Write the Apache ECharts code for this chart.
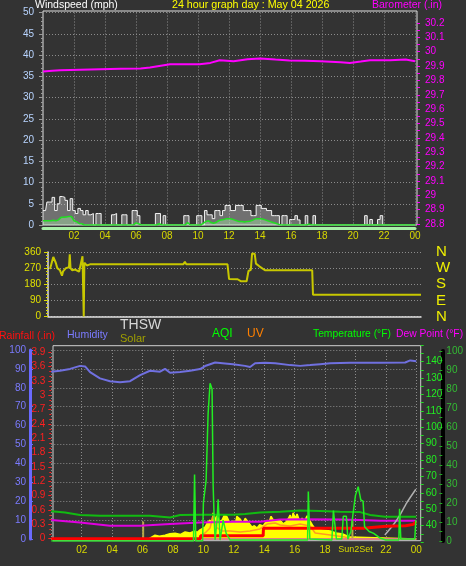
<!DOCTYPE html>
<html><head><meta charset="utf-8">
<script src="https://cdn.jsdelivr.net/npm/echarts@6/dist/echarts.min.js"></script>
<style>html,body{margin:0;padding:0;background:#333333;}#c{width:466px;height:566px;}</style>
</head><body><div id="c"></div>
<script>
// ---------- DATA ----------
// wind, one value per 10 minutes from 00:00 to 24:00 (mph)
const windGust = [3.4,3.4,5.4,5.4,6.5,3.4,5,6.7,6.5,5.8, 3.4,6.2,3.4,2.7,3.9,3.4,2.4,3.4,2.4,2.7,
  0,2.7,2.7,0,0,0,0,2.4,2.7,0, 0,2.4,2.4,0,0,3.4,3.4,2.2,0,0, 0,0,0,0,2.7,2.7,0,2.2,0,0,
  0,0,0,0,0,2.2,2.2,0,0,0, 2.2,2.2,0,3.4,2.4,2.4,1.5,3.4,3.4,2.2, 3.4,4.6,4.6,3.4,3.4,4.6,4.6,4.6,3.4,3.4,
  3.4,2.2,2.2,4.6,4.6,3.9,3.9,3.4,3.4,2.2, 2.2,2.2,0,2.2,2.2,0,1.3,1.3,2.2,1.2, 0,0,2.2,0,0,2.2,0,0,0,0,
  0,0,0,0,0,0,0,0,0,0, 0,0,0,0,0,2.2,0,1.3,0,0, 1.3,2.2,0,0,0,0,0,0,0,0, 0,0,0,0,0];
const windAvg = [1.0,1.0,1.0,1.0,1.1,1.0,1.2,1.8,1.8,1.9, 2.0,2.0,1.0,0.8,0.35,0.3,0,0,0,0,
  0,0,0,0,0,0,0,0,0,0, 0,0,0,0,0,0,0.5,0.3,0,0, 0,0,0,0,0,0.3,0,0,0,0,
  0,0,0,0,0,0,0.6,0,0,0, 0,0,0.4,0.8,1.0,0.6,0.4,0.6,1.0,1.2, 1.3,1.5,1.5,1.4,1.2,1.0,0.8,0.8,0.7,0.8,
  0.9,1.1,1.4,1.5,1.5,1.4,1.2,1.0,0.8,0.6, 0.4,0.2,0,0,0,0,0,0,0,0, 0,0,0,0.2,0,0,0,0,0,0,
  0,0,0,0,0,0,0,0,0,0, 0,0,0,0,0,0,0,0,0,0, 0,0,0,0,0,0,0,0,0,0, 0,0,0,0,0];
// barometer [hour, inHg]
const barometer = [[0,29.862],[0.6,29.868],[1.1,29.871],[2.4,29.875],[3.7,29.878],[5.0,29.881],[6.3,29.883],[6.9,29.89],
  [7.6,29.903],[8.2,29.913],[9.2,29.912],[10.1,29.913],[10.8,29.922],[11.4,29.941],[12.3,29.934],[13.2,29.947],[14.0,29.953],
  [15.0,29.945],[15.9,29.939],[16.9,29.937],[17.9,29.934],[19.2,29.927],[19.8,29.922],[20.5,29.932],[21.1,29.941],
  [22.4,29.941],[23.4,29.945],[24,29.934]];
// wind direction [hour, degrees]
const windDir = [[0.13,265],[0.34,332],[0.5,300],[0.6,270],[0.77,258],[0.9,228],[0.97,252],[1.15,270],[1.35,275],
  [1.4,347],[1.45,270],[1.55,258],[1.75,262],[2.0,250],[2.1,258],[2.22,336],[2.27,336],[2.3,0],[2.34,300],[2.5,285],
  [2.7,291],[8.7,291],[8.81,305],[8.9,291],[11.55,291],[11.65,209],[12.2,208],[12.4,197],[12.78,197],[12.9,254],
  [13.05,260],[13.13,351],[13.3,350],[13.38,295],[13.6,280],[13.96,258],[17.0,258],[17.05,122],[24,122]];
const dirLetters = {0:'N',90:'E',180:'S',270:'W',360:'N'};
// bottom panel
const humidity = [[0,88.5],[0.57,89],[1.23,90],[1.89,91.6],[2.22,91.3],[2.55,88.3],[3.2,85],[3.86,83.5],[4.52,83],
  [5.18,83.5],[5.84,86.7],[6.49,89],[7.15,88.5],[7.48,90],[7.81,88],[8.47,88.3],[9.13,89],[9.78,89.9],[10.11,91.5],
  [10.77,93.4],[11.43,92.9],[11.95,92.5],[12.74,91.6],[13.07,91],[13.4,93],[14.06,93.2],[14.72,93],[15.71,92],
  [16.36,91.6],[17.02,92],[17.68,92.5],[18.34,93],[19.65,93.2],[21.63,93.2],[23.27,93.4],[23.6,94.5],[24,94]];
const temperature = [[0,48.8],[0.9,48],[1.89,46.5],[3.2,46],[6.49,46],[7.81,45],[8.47,46.5],[9.78,46.7],[11.95,46.7],
  [12.74,47.2],[13.72,48],[15.05,48.5],[16.36,49.3],[17.68,48.9],[18.99,48.5],[20.31,48.3],[20.97,46.5],[21.95,45.5],[24,45.5]];
const dewPoint = [[0,43.5],[1.89,42],[3.86,40],[5.84,40],[7.81,41],[9.78,42],[11.95,42.4],[13.72,42.4],[15.05,43.8],
  [16.36,44],[18.99,43.8],[20.31,43.5],[21.63,43],[24,43]];
const rainfall = [[0,0],[9.8,0],[9.82,0.06],[13.93,0.06],[13.95,0.22],[20.5,0.22],[20.6,0.25],[22,0.26],[23.3,0.27],[23.8,0.3],[24,0.36]];
const solar = [[0,0],[6.4,0],[6.49,0.5],[6.82,2],[7.1,1.5],[7.48,2],[7.8,2.8],[8.14,3],[8.5,2.4],[8.8,3.7],[9.12,3.2],[9.45,4.2],
  [9.6,3.5],[9.78,4.8],[10.11,6.3],[10.3,9],[10.44,10],[10.55,7],[10.64,13.8],[10.75,10],[10.9,12.7],[11.05,9],[11.23,10],
  [11.4,13],[11.56,11.6],[11.75,8],[11.95,9.5],[12.1,8],[12.2,12],[12.41,10.6],[12.6,8],[12.75,11],[12.88,10],[13.2,6.3],
  [13.35,7],[13.53,5.8],[13.7,7.5],[13.93,6.9],[14.19,10],[14.3,8.5],[14.45,12],[14.6,10],[14.72,11],[15.05,10],[15.25,8],
  [15.44,9],[15.6,11],[15.7,12.7],[15.8,10],[15.9,13.8],[16.05,11],[16.16,13.2],[16.35,9],[16.49,11],[16.65,9.5],
  [16.82,12.2],[17.02,9.5],[17.2,7],[17.35,5.3],[17.81,4.8],[18.34,4.2],[18.73,3.2],[19.19,2.6],[19.65,1],[19.78,0],[24,0]];
const uvIndex = [[0,0],[9.7,0],[9.78,1.8],[10.11,3.2],[10.44,5.8],[10.64,12.7],[10.84,6.3],[11.23,4.2],[11.75,4.2],
  [12.41,3.7],[13.07,4.2],[13.72,5.3],[14.19,7.9],[14.72,8.5],[15.05,7.4],[15.7,6.9],[16.36,7.9],[17.02,6.9],
  [17.35,3.2],[18.34,2.1],[19.32,1],[19.7,0],[24,0]];
const aqi = [[0,0],[9.35,0],[9.42,35],[9.5,0],[9.95,0],[10.0,20],[10.18,32],[10.31,67],[10.44,83],[10.57,80],[10.64,30],
  [10.7,14],[10.77,0.5],[10.9,11],[10.97,22],[11.1,0.5],[11.3,11],[11.5,4],[11.76,0.5],[16.85,0.5],[16.9,26],[17.0,1],
  [18.45,0.5],[18.55,16],[18.65,16],[18.75,1],[19.1,1],[19.2,13],[19.4,13],[19.5,1],[19.7,5],[19.85,15],[20.0,24],
  [20.18,28.6],[20.35,21.6],[20.5,21],[20.6,7.5],[20.9,5],[21.2,4],[21.6,1.6],[22.0,0.5],[22.85,0.5],[22.9,17],
  [22.98,1],[23.9,1],[23.97,11],[24,11]];
const thsw = [[21.93,34.3],[22.48,40.4],[22.92,46.5],[23.36,53.8],[23.97,62.2]];
const sunMarks = [[6.04,9.2],[19.8,10]];
const bottomHourLabels = {20:'Sun2Set'};

// ---------- CHART ----------
const chart = echarts.init(document.getElementById('c'), null, {renderer:'canvas'});
const FONT = 'Liberation Sans';
const dotted = {show:true, lineStyle:{color:'#8c8c8c', type:[1,2], width:1}};
const hourFmt = v => { const h = Math.round(v) % 24; return (h < 10 ? '0' : '') + h; };
const bottomFmt = v => bottomHourLabels[Math.round(v)] ? '{s|' + bottomHourLabels[Math.round(v)] + '}' : hourFmt(v);
const everyN = (n, lo, hi) => v => { const r = Math.round(v * 100) / 100; return (Math.abs(r / n - Math.round(r / n)) < 1e-6 && r > lo && r < hi) ? String(r) : ''; };
const tenMin = arr => arr.map((v,i) => [i/6, v]);
const hiddenX = gi => ({type:'value', gridIndex:gi, min:0, max:24, show:false});
const hiddenY = (gi, mn, mx) => ({type:'value', gridIndex:gi, min:mn, max:mx, show:false, axisLine:{onZero:false}});

const option = {
  backgroundColor:'#333333',
  animation:false,
  grid:[
    {left:43, width:372, top:12.5, height:212.5},            //0 wind
    {left:43, width:372, top:23, height:201},                //1 baro data
    {left:48, width:373, top:252, height:64.5},              //2 direction
    {left:51.3, width:365, top:350, height:189},             //3 humidity
    {left:51.3, width:365, top:352.4, height:186.3},         //4 rain
    {left:51.3, width:365, top:345.3, height:196.8},         //5 temperature data
    {left:51.3, width:365, top:351, height:190},             //6 AQI data
    {left:43, width:374, top:11, height:214, show:true, borderColor:'#e0e0e0', borderWidth:1, backgroundColor:'transparent'},
    {left:53, width:367.7, top:345.7, height:195, show:true, borderColor:'#d0d0d0', borderWidth:1, backgroundColor:'transparent'},
    {left:415, width:2, top:23, height:201},                 //9 baro axis
    {left:416.3, width:4.4, top:345.3, height:196.8},        //10 temperature axis
    {left:416.3, width:26.7, top:351, height:190}            //11 AQI axis
  ],
  xAxis:[
    {type:'value', gridIndex:0, min:0, max:24, interval:2, offset:3,
      axisLine:{show:true, onZero:false, lineStyle:{color:'#a8f0a8', width:3}}, axisTick:{show:false},
      axisLabel:{color:'#d8d800', fontSize:10, fontFamily:FONT, margin:3, formatter:hourFmt, showMinLabel:false},
      splitLine:dotted},
    hiddenX(1),
    {type:'value', gridIndex:2, min:0, max:24, axisLine:{show:true, onZero:false, lineStyle:{color:'#e0e0e0', width:1.5}},
      axisTick:{show:false}, axisLabel:{show:false}, splitLine:{show:false}},
    {type:'value', gridIndex:3, min:0, max:24, interval:2, axisLine:{show:false, onZero:false}, axisTick:{show:false},
      axisLabel:{color:'#d8d800', fontSize:10, fontFamily:FONT, margin:6, showMinLabel:false, formatter:bottomFmt,
        rich:{s:{color:'#d8d800', fontSize:9, fontFamily:FONT}}},
      splitLine:dotted},
    hiddenX(4), hiddenX(5), hiddenX(6), hiddenX(9), hiddenX(10), hiddenX(11)
  ],
  yAxis:[
    {type:'value', gridIndex:0, min:0, max:50, interval:5, position:'left',
      axisLine:{show:false, onZero:false}, axisTick:{show:true, length:4, lineStyle:{color:'#9a9a9a'}},
      minorTick:{show:true, splitNumber:5, length:2, lineStyle:{color:'#9a9a9a'}},
      axisLabel:{color:'#b8d4ff', fontSize:10, fontFamily:FONT, margin:9}, splitLine:dotted},
    hiddenY(1, 28.8, 30.2),
    {type:'value', gridIndex:2, min:0, max:360, interval:90, position:'left',
      axisLine:{show:true, onZero:false, lineStyle:{color:'#e0e0e0', width:1.5}}, axisTick:{show:true, length:4, lineStyle:{color:'#d8d800'}},
      minorTick:{show:true, splitNumber:5, length:2, lineStyle:{color:'#d8d800'}},
      axisLabel:{color:'#e0e000', fontSize:10, fontFamily:FONT, margin:7}, splitLine:dotted},
    {type:'value', gridIndex:2, min:0, max:360, interval:90, position:'right',
      axisLine:{show:false, onZero:false}, axisTick:{show:false}, splitLine:{show:false},
      axisLabel:{color:'#f0f000', fontSize:15, fontFamily:FONT, margin:15, formatter:v => dirLetters[v]}},
    {type:'value', gridIndex:3, min:0, max:100, interval:10, position:'left', offset:21.3,
      axisLine:{show:true, onZero:false, lineStyle:{color:'#6a6aff', width:3}},
      axisTick:{show:true, inside:true, length:3, lineStyle:{color:'#6a6aff'}},
      minorTick:{show:true, splitNumber:2, length:2, lineStyle:{color:'#6a6aff'}},
      axisLabel:{color:'#7b7bff', fontSize:10, fontFamily:FONT, margin:4}, splitLine:dotted},
    {type:'value', gridIndex:4, min:0, max:3.9, interval:0.3, position:'left', offset:0,
      axisLine:{show:false, onZero:false}, axisTick:{show:true, length:3, lineStyle:{color:'#ff2020'}},
      minorTick:{show:true, splitNumber:3, length:2, lineStyle:{color:'#ff2020'}},
      axisLabel:{color:'#ff2020', fontSize:10, fontFamily:FONT, margin:6}, splitLine:{show:false}},
    hiddenY(5, 30, 150),
    hiddenY(6, 0, 100),
    // visible right-hand axes in their own narrow grids
    {type:'value', gridIndex:9, min:28.8, max:30.2, interval:0.05, position:'right',
      axisLine:{show:false, onZero:false}, axisTick:{show:true, length:3, lineStyle:{color:'#ff00ff'}},
      axisLabel:{color:'#ff00ff', fontSize:10, fontFamily:FONT, margin:8, formatter:everyN(0.1, 28.79, 30.21)}, splitLine:{show:false}},
    {type:'value', gridIndex:10, min:30, max:150, interval:5, position:'right',
      axisLine:{show:false, onZero:false}, axisTick:{show:true, length:3, lineStyle:{color:'#22dd22'}},
      axisLabel:{color:'#22ee22', fontSize:10, fontFamily:FONT, margin:5, formatter:everyN(10, 35, 145)},
      splitLine:{show:false}},
    {type:'value', gridIndex:11, min:0, max:100, interval:5, position:'right',
      axisLine:{show:true, onZero:false, lineStyle:{color:'#000000', width:4}},
      axisTick:{show:true, inside:true, length:3, lineStyle:{color:'#22aa22'}},
      axisLabel:{color:'#33bb33', fontSize:10, fontFamily:FONT, margin:4, formatter:everyN(10, -1, 101)}, splitLine:{show:false}}
  ],
  series:[
    {name:'Gust', type:'line', step:'middle', xAxisIndex:0, yAxisIndex:0, data:tenMin(windGust), symbol:'none',
      lineStyle:{color:'#f4f4f4', width:1}, areaStyle:{color:'rgba(225,225,225,0.5)'}, z:3},
    {name:'Wind', type:'line', xAxisIndex:0, yAxisIndex:0, data:tenMin(windAvg), symbol:'none',
      lineStyle:{color:'#22dd22', width:1.5}, areaStyle:{color:'rgba(180,255,180,0.5)'}, z:4},
    {name:'Barometer', type:'line', xAxisIndex:1, yAxisIndex:1, data:barometer, symbol:'none',
      lineStyle:{color:'#ff00ff', width:2}, z:4},
    {name:'Direction', type:'line', xAxisIndex:2, yAxisIndex:2, data:windDir, symbol:'none',
      lineStyle:{color:'#c8c800', width:2}, z:4},
    {name:'Solar', type:'line', xAxisIndex:3, yAxisIndex:4, data:solar, symbol:'none',
      lineStyle:{color:'#ffff00', width:1.5}, areaStyle:{color:'#ffff00', opacity:1}, z:2},
    {name:'SunMarks', type:'bar', xAxisIndex:3, yAxisIndex:4, data:sunMarks, barWidth:2,
      itemStyle:{color:'#b8a848'}, z:3},
    {name:'UV', type:'line', xAxisIndex:3, yAxisIndex:4, data:uvIndex, symbol:'none',
      lineStyle:{color:'#ff9a20', width:1.5}, z:3},
    {name:'Dew Point', type:'line', xAxisIndex:5, yAxisIndex:6, data:dewPoint, symbol:'none',
      lineStyle:{color:'#e000e0', width:2}, z:4},
    {name:'Temperature', type:'line', xAxisIndex:5, yAxisIndex:6, data:temperature, symbol:'none',
      lineStyle:{color:'#11bb11', width:2}, z:4},
    {name:'THSW', type:'line', xAxisIndex:5, yAxisIndex:6, data:thsw, symbol:'none', smooth:0.2,
      lineStyle:{color:'#b0b0b0', width:1.5}, z:4},
    {name:'Humidity', type:'line', xAxisIndex:3, yAxisIndex:4, data:humidity, symbol:'none',
      lineStyle:{color:'#7070e0', width:2}, z:4},
    {name:'Rainfall', type:'line', xAxisIndex:4, yAxisIndex:5, data:rainfall, symbol:'none',
      lineStyle:{color:'#ff0000', width:3}, z:5,
      markLine:{silent:true, symbol:['none','none'], label:{show:false}, data:[{yAxis:0}],
        lineStyle:{color:'#e08080', width:2, type:'solid'}}},
    {name:'AQI', type:'line', xAxisIndex:6, yAxisIndex:7, data:aqi, symbol:'none',
      lineStyle:{color:'#22ee22', width:1.5}, z:6}
  ],
  graphic:[
    {type:'text', x:35, y:5, style:{text:'Windspeed (mph)', fill:'#ffffff', font:'10.5px '+FONT, textVerticalAlign:'middle'}},
    {type:'text', x:172, y:5, style:{text:'24 hour graph day : May 04 2026', fill:'#ffff00', font:'10.7px '+FONT, textVerticalAlign:'middle'}},
    {type:'text', x:372, y:5, style:{text:'Barometer (.in)', fill:'#ff00ff', font:'10.5px '+FONT, textVerticalAlign:'middle'}},
    {type:'text', x:-1, y:336, style:{text:'Rainfall (.in)', fill:'#ff1010', font:'10.5px '+FONT, textVerticalAlign:'middle'}},
    {type:'text', x:67, y:335, style:{text:'Humidity', fill:'#7b7bff', font:'10.5px '+FONT, textVerticalAlign:'middle'}},
    {type:'text', x:120, y:325, style:{text:'THSW', fill:'#d8d8d8', font:'14px '+FONT, textVerticalAlign:'middle'}},
    {type:'text', x:120, y:339, style:{text:'Solar', fill:'#a0a000', font:'11px '+FONT, textVerticalAlign:'middle'}},
    {type:'text', x:212, y:334, style:{text:'AQI', fill:'#00ff00', font:'12px '+FONT, textVerticalAlign:'middle'}},
    {type:'text', x:247, y:334, style:{text:'UV', fill:'#ff8000', font:'12px '+FONT, textVerticalAlign:'middle'}},
    {type:'text', x:313, y:334, style:{text:'Temperature (°F)', fill:'#00ff00', font:'10.3px '+FONT, textVerticalAlign:'middle'}},
    {type:'text', x:396, y:334, style:{text:'Dew Point (°F)', fill:'#ff00ff', font:'10.3px '+FONT, textVerticalAlign:'middle'}}
  ]
};
chart.setOption(option);
</script></body></html>
